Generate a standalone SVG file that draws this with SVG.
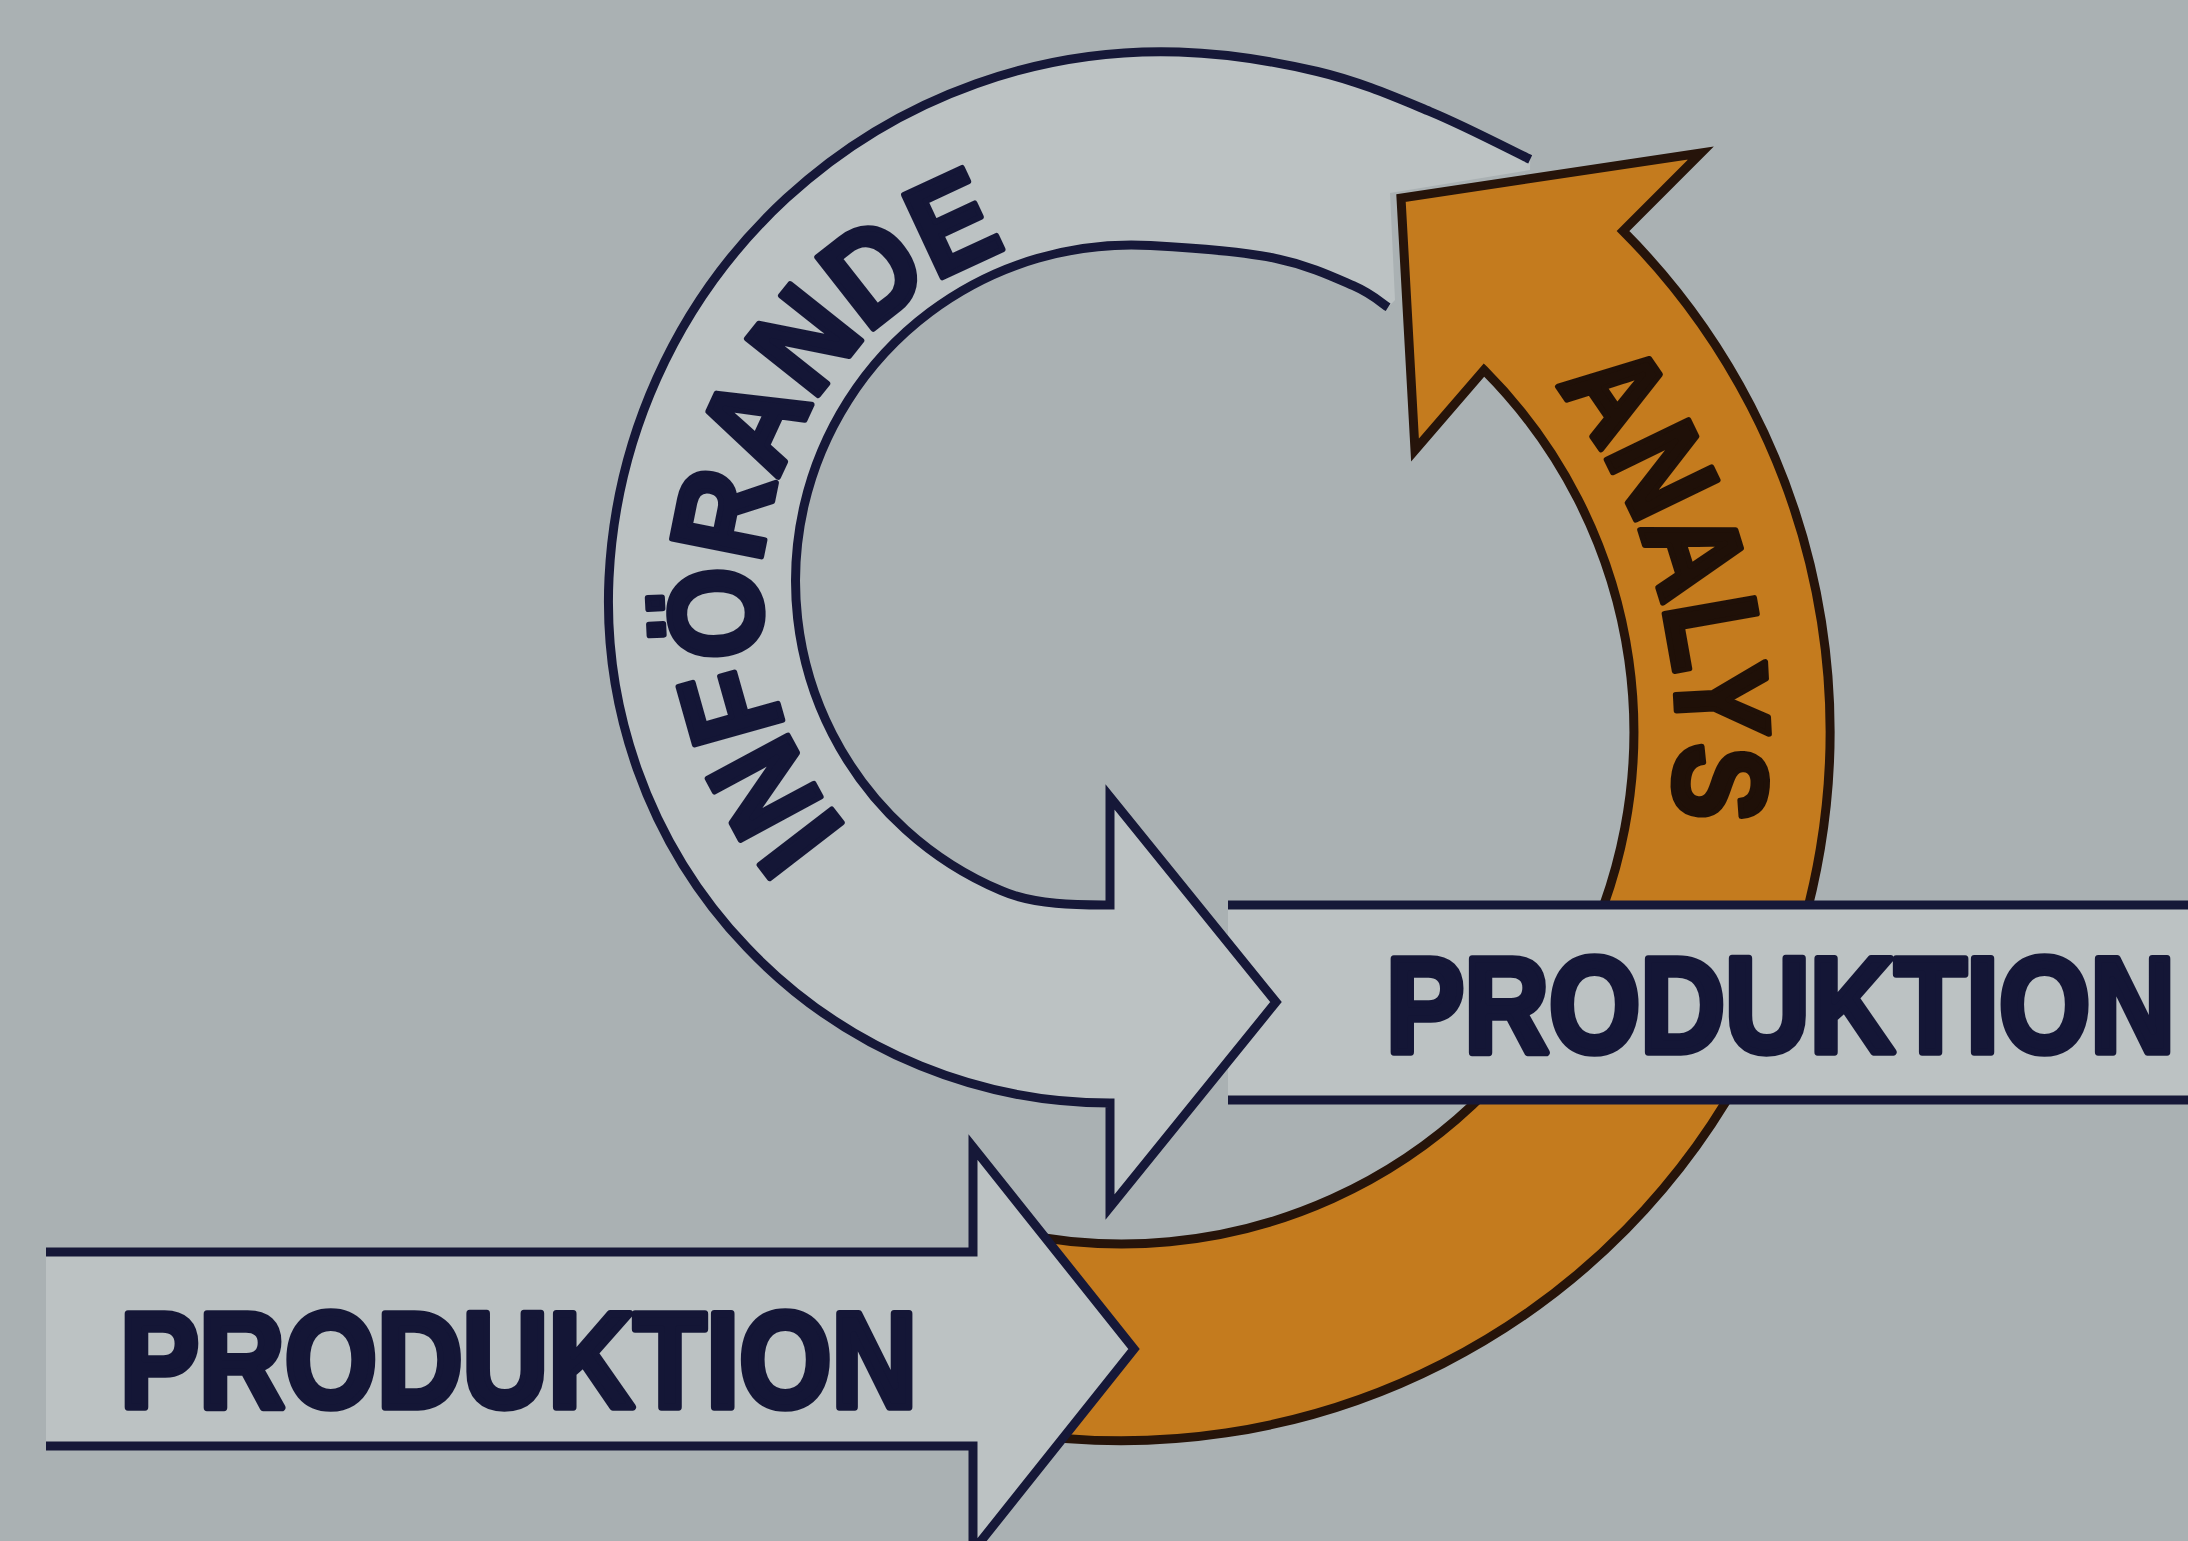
<svg xmlns="http://www.w3.org/2000/svg" width="2188" height="1541" viewBox="0 0 2188 1541">
  <style>
    .band { fill: #bcc2c3; }
    .line { fill: none; stroke: #161838; stroke-width: 9; stroke-linejoin: miter; stroke-miterlimit: 6; }
    .orange { fill: #c47b1e; stroke: #26140a; stroke-width: 9; stroke-linejoin: miter; stroke-miterlimit: 6; }
    .lbl { font-family: "Liberation Sans", Arial, sans-serif; font-weight: bold; fill: #141636; stroke: #141636; stroke-linejoin: round; }
    .lbl-or { font-family: "Liberation Sans", Arial, sans-serif; font-weight: bold; fill: #1f1008; stroke: #1f1008; stroke-width: 6; stroke-linejoin: round; }
    .arc { stroke-width: 6; }
    .flat { stroke-width: 6.5; }
  </style>
  <defs>
    <path id="p-inf" d="M847,829 A364,364 0 0 1 1188.2,235.5"/>
    <path id="p-ana" d="M1555.1,385 A555,555 0 0 1 1602.6,1009.5"/>
    <path id="ring" d="M1530.2,159.4 C1513.5,151.4 1465.6,126.3 1430.1,111.6 C1394.6,96.9 1359.2,81.4 1317.3,71.5 C1275.4,61.6 1231.9,53.7 1179,52 A553,553 0 0 0 609,578 A501.5,501.5 0 0 0 1110,1103 L1110,1207 L1276,1002 L1110,797 L1110,905 C1085,905 1036,906 1001.3,890.7 A336,336 0 0 1 1150.5,245.5 C1195.4,248 1241.5,251.3 1275.3,258.3 C1309.1,265.3 1334.5,277.5 1353.3,285.7 C1372.1,293.9 1382.3,303.7 1388.1,307.3"/>
  </defs>

  <rect id="background" x="0" y="0" width="2188" height="1541" fill="#aab1b3"/>

  <g id="analys">
    <path class="orange" d="M1010,1432 A709,709 0 0 0 1623,231 L1701,153 L1401,198 L1415,450 L1484,370 A512,512 0 0 1 1010,1231.6 Z"/>
    <text class="lbl-or" font-size="132"><textPath href="#p-ana" textLength="460" lengthAdjust="spacingAndGlyphs">ANALYS</textPath></text>
  </g>

  <g id="produktion-out">
    <rect class="band" x="1228" y="905" width="960" height="195"/>
    <path class="line" d="M1228,905 H2188 M1228,1100 H2188"/>
    <text class="lbl flat" transform="translate(1386,1052) scale(1,1.144)" x="0" y="0" font-size="118" textLength="789" lengthAdjust="spacingAndGlyphs">PRODUKTION</text>
  </g>

  <g id="inforande">
    <path class="band" d="M1530.2,159.4 C1513.5,151.4 1465.6,126.3 1430.1,111.6 C1394.6,96.9 1359.2,81.4 1317.3,71.5 C1275.4,61.6 1231.9,53.7 1179,52 A553,553 0 0 0 609,578 A501.5,501.5 0 0 0 1110,1103 L1110,1207 L1276,1002 L1110,797 L1110,905 C1085,905 1036,906 1001.3,890.7 A336,336 0 0 1 1150.5,245.5 C1195.4,248 1241.5,251.3 1275.3,258.3 C1309.1,265.3 1334.5,277.5 1353.3,285.7 C1372.1,293.9 1382.3,303.7 1388.1,307.3 L1395,300 L1390,193 L1530,170 Z"/>
    <use href="#ring" class="line"/>
    <text class="lbl arc" font-size="132"><textPath href="#p-inf" textLength="708" lengthAdjust="spacingAndGlyphs">INFÖRANDE</textPath></text>
  </g>

  <g id="produktion-in">
    <path class="band" d="M46,1252 L973,1252 L973,1147 L1134,1349 L973,1551 L973,1446 L46,1446 Z"/>
    <path class="line" d="M46,1252 L973,1252 L973,1147 L1134,1349 L973,1551 L973,1446 L46,1446"/>
    <text class="lbl flat" transform="translate(120,1407) scale(1,1.144)" x="0" y="0" font-size="118" textLength="797" lengthAdjust="spacingAndGlyphs">PRODUKTION</text>
  </g>
</svg>
